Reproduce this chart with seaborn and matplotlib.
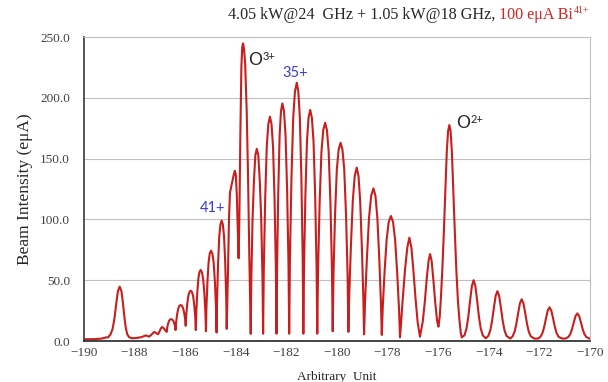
import matplotlib
matplotlib.use("Agg")
import matplotlib.pyplot as plt
import seaborn as sns
import pandas as pd

# beam current trace, grouped peak by peak
scan_x = [
    -190.00, -189.60, -189.30, -189.12,
    -189.05, -188.95, -188.87, -188.80, -188.73, -188.66, -188.59, -188.52, -188.46, -188.41, -188.35, -188.29, -188.22, -188.10,
    -187.90, -187.72, -187.56, -187.42, -187.32, -187.23, -187.14, -187.07,
    -187.00, -186.96, -186.91, -186.85, -186.78, -186.73,
    -186.713, -186.679, -186.64, -186.601, -186.56, -186.517, -186.475, -186.434, -186.398, -186.38,
    -186.36, -186.32, -186.274, -186.228, -186.18, -186.132, -186.086, -186.04, -186.00, -185.98,
    -185.96, -185.92, -185.874, -185.828, -185.78, -185.732, -185.686, -185.64, -185.60, -185.58,
    -185.561, -185.523, -185.479, -185.436, -185.39, -185.34, -185.291, -185.243, -185.201, -185.18,
    -185.16, -185.12, -185.074, -185.028, -184.98, -184.927, -184.877, -184.826, -184.782, -184.76,
    -184.74, -184.70, -184.654, -184.608, -184.56, -184.512, -184.466, -184.42, -184.38, -184.36,
    -184.31, -184.27, -184.23, -184.17, -184.10, -184.04, -184.00, -183.96, -183.92, -183.89,
    -183.86, -183.82, -183.78, -183.745, -183.71, -183.675, -183.63, -183.57, -183.52, -183.47, -183.41,
    -183.386, -183.338, -183.283, -183.228, -183.17, -183.11, -183.053, -182.995, -182.945, -182.92,
    -182.893, -182.839, -182.777, -182.715, -182.65, -182.588, -182.528, -182.468, -182.416, -182.39,
    -182.367, -182.321, -182.268, -182.215, -182.16, -182.095, -182.033, -181.971, -181.917, -181.89,
    -181.86, -181.80, -181.731, -181.662, -181.59, -181.528, -181.468, -181.408, -181.356, -181.33,
    -181.303, -181.249, -181.187, -181.125, -181.06, -180.993, -180.928, -180.864, -180.808, -180.78,
    -180.749, -180.687, -180.616, -180.544, -180.47, -180.398, -180.329, -180.26, -180.20, -180.17,
    -180.139, -180.077, -180.006, -179.934, -179.86, -179.786, -179.714, -179.643, -179.581, -179.55,
    -179.517, -179.451, -179.375, -179.299, -179.22, -179.15, -179.084, -179.017, -178.959, -178.93,
    -178.893, -178.819, -178.734, -178.649, -178.56, -178.481, -178.405, -178.329, -178.263, -178.23,
    -178.194, -178.122, -178.039, -177.956, -177.87, -177.784, -177.701, -177.618, -177.546, -177.51,
    -177.47, -177.40, -177.31, -177.22, -177.14, -177.06, -176.98, -176.90, -176.81, -176.72,
    -176.68, -176.61, -176.53, -176.45, -176.38, -176.32, -176.26, -176.19, -176.11, -176.04, -175.99,
    -175.94, -175.90, -175.84, -175.78, -175.72, -175.66, -175.61, -175.56, -175.51, -175.46, -175.40, -175.34, -175.28, -175.22, -175.16, -175.11, -175.07,
    -174.96, -174.88, -174.81, -174.74, -174.67, -174.60, -174.53, -174.46, -174.39, -174.32, -174.24, -174.12,
    -174.02, -173.94, -173.87, -173.80, -173.73, -173.66, -173.59, -173.52, -173.45, -173.38, -173.30, -173.15,
    -173.06, -172.98, -172.91, -172.84, -172.77, -172.70, -172.63, -172.56, -172.49, -172.42, -172.34, -172.20, -172.05,
    -171.96, -171.88, -171.81, -171.74, -171.67, -171.60, -171.53, -171.46, -171.39, -171.32, -171.24, -171.10, -170.98,
    -170.86, -170.78, -170.71, -170.64, -170.57, -170.50, -170.43, -170.36, -170.29, -170.22, -170.14, -170.00,
]
scan_y = [
    1.5, 1.5, 2.0, 3.0,
    3.0, 5.5, 10.0, 18.0, 30.0, 41.0, 44.7, 41.0, 31.0, 21.0, 11.0, 5.5, 3.2, 2.2,
    2.6, 3.2, 4.6, 3.6, 5.5, 7.5, 6.5, 5.5,
    8.5, 10.5, 11.5, 10.5, 8.5, 7.5,
    10.7, 14.0, 16.5, 17.6, 18.0, 17.7, 16.7, 14.6, 11.7, 9.0,
    15.2, 21.8, 26.7, 28.9, 29.6, 29.0, 27.2, 23.1, 17.6, 12.5,
    21.2, 30.4, 37.4, 40.4, 41.4, 40.3, 36.9, 29.1, 18.7, 9.0,
    23.8, 39.6, 51.5, 56.7, 58.4, 56.6, 51.3, 39.2, 23.1, 8.0,
    27.9, 49.1, 65.0, 72.0, 74.3, 72.0, 64.9, 48.7, 27.2, 7.0,
    34.6, 64.0, 86.1, 95.8, 99.0, 95.9, 86.5, 65.2, 36.7, 10.0,
    55.0, 100.0, 122.0, 128.0, 135.0, 140.0, 137.0, 120.0, 90.0, 68.0,
    100.0, 170.0, 225.0, 242.0, 244.8, 240.0, 228.0, 190.0, 140.0, 75.0, 5.8,
    51.5, 100.2, 131.7, 152.7, 158.0, 152.7, 131.9, 100.2, 51.6, 6.0,
    59.6, 116.7, 159.5, 178.3, 184.5, 178.3, 159.5, 116.7, 59.6, 6.0,
    62.8, 123.4, 168.9, 188.8, 195.4, 188.8, 168.9, 123.4, 62.8, 6.0,
    67.9, 134.0, 183.5, 205.2, 212.4, 205.2, 183.5, 134.0, 67.9, 6.0,
    61.2, 120.1, 164.2, 183.6, 190.0, 183.6, 164.2, 120.1, 61.2, 6.0,
    58.0, 113.6, 155.2, 173.4, 179.5, 173.5, 155.5, 114.3, 59.5, 8.0,
    54.5, 104.1, 141.3, 157.6, 163.0, 157.6, 141.2, 103.9, 54.2, 7.5,
    37.2, 77.8, 115.6, 135.8, 142.6, 135.7, 115.2, 76.8, 35.7, 5.5,
    31.7, 67.4, 101.5, 119.5, 125.5, 119.5, 101.4, 67.7, 31.5, 5.0,
    26.5, 55.9, 83.2, 97.9, 102.8, 97.8, 82.8, 54.9, 25.0, 3.0,
    14.0, 35.0, 59.0, 77.0, 85.0, 77.0, 58.0, 36.0, 15.0, 3.5,
    8.0, 16.0, 32.0, 52.0, 66.0, 71.5, 66.0, 50.0, 30.0, 16.0, 11.8,
    20.0, 33.0, 57.0, 88.0, 122.0, 156.0, 172.5, 177.6, 172.5, 156.0, 122.0, 88.0, 57.0, 33.0, 17.0, 7.0, 3.0,
    4.7, 10.4, 20.0, 33.1, 45.1, 50.0, 45.1, 33.1, 20.0, 10.4, 4.7, 2.2,
    4.2, 8.8, 16.6, 27.2, 37.0, 41.0, 37.0, 27.2, 16.6, 8.8, 4.2, 2.0,
    3.8, 7.7, 14.1, 22.9, 31.0, 34.3, 31.0, 22.9, 14.1, 7.7, 3.8, 2.0, 2.0,
    3.4, 6.5, 11.6, 18.6, 25.1, 27.7, 25.1, 18.6, 11.6, 6.5, 3.4, 2.0, 2.0,
    3.2, 5.6, 9.8, 15.4, 20.6, 22.7, 20.6, 15.4, 9.8, 5.6, 3.2, 1.8,
]

y_ticks = [0, 50, 100, 150, 200, 250]
x_ticks = list(range(-190, -169, 2))

sns.set_theme(style="white")
plt.rcParams["font.family"] = ["Liberation Serif", "DejaVu Serif"]

fig = plt.figure(figsize=(6.08, 3.82), dpi=100)
ax = fig.add_axes([84 / 608, 41 / 382, 506 / 608, 304 / 382])

df = pd.DataFrame({"x": scan_x, "y": scan_y})
sns.lineplot(data=df, x="x", y="y", sort=False, estimator=None,
             color="#c81e1e", lw=1.5, ax=ax)

ax.set_xlim(-190, -170)
ax.set_ylim(0, 250)
ax.set_xticks(x_ticks)
ax.set_yticks(y_ticks)
ax.set_yticklabels([f"{v:.1f}" for v in y_ticks])
ax.tick_params(axis="y", length=0, pad=10, labelsize=9.5, labelcolor="#404040")
ax.tick_params(axis="x", length=0, pad=4, labelsize=9.5, labelcolor="#404040")

ax.yaxis.grid(True, color="#c0c0c0", lw=0.8)
ax.xaxis.grid(False)
ax.spines["left"].set_color("#404040")
ax.spines["bottom"].set_color("#262626")
ax.spines["bottom"].set_linewidth(1.2)
for side in ["top", "right"]:
    ax.spines[side].set_color("#c0c0c0")
    ax.spines[side].set_linewidth(0.8)

ax.set_xlabel("Arbitrary  Unit", fontsize=9.5, labelpad=9)
ax.set_ylabel("Beam Intensity (eμA)", fontsize=12.5, labelpad=5)

# peak labels
sans = ["Lato", "DejaVu Sans"]
o3 = ax.text(-183.52, 231, "O", family=sans, fontsize=12.5, ha="left", va="center")
ax.annotate("3+", xy=(1, 1), xycoords=o3, xytext=(0.5, 1), textcoords="offset points",
            family=sans, fontsize=8, va="top")
o2 = ax.text(-175.30, 179, "O", family=sans, fontsize=12.5, ha="left", va="center")
ax.annotate("2+", xy=(1, 1), xycoords=o2, xytext=(0.5, 1), textcoords="offset points",
            family=sans, fontsize=8, va="top")
ax.text(-182.15, 220, "35+", family=sans, fontsize=10.5, color="#3a3ad8", ha="left", va="center")
ax.text(-185.42, 109.5, "41+", family=sans, fontsize=10.5, color="#3a3ad8", ha="left", va="center")

# two-colour title
t1 = fig.text(228 / 608, 1 - 15 / 382, "4.05 kW@24  GHz + 1.05 kW@18 GHz, ",
              fontsize=11.6, va="center", ha="left")
t2 = ax.annotate("100 eμA Bi", xy=(1, 0), xycoords=t1, va="bottom", ha="left",
                 fontsize=11.6, color="#e02020", annotation_clip=False)
ax.annotate("41+", xy=(1, 1), xycoords=t2, xytext=(0.5, 1), textcoords="offset points",
            va="top", ha="left", fontsize=7, color="#e02020", annotation_clip=False)

fig.savefig("out.png", dpi=100)
